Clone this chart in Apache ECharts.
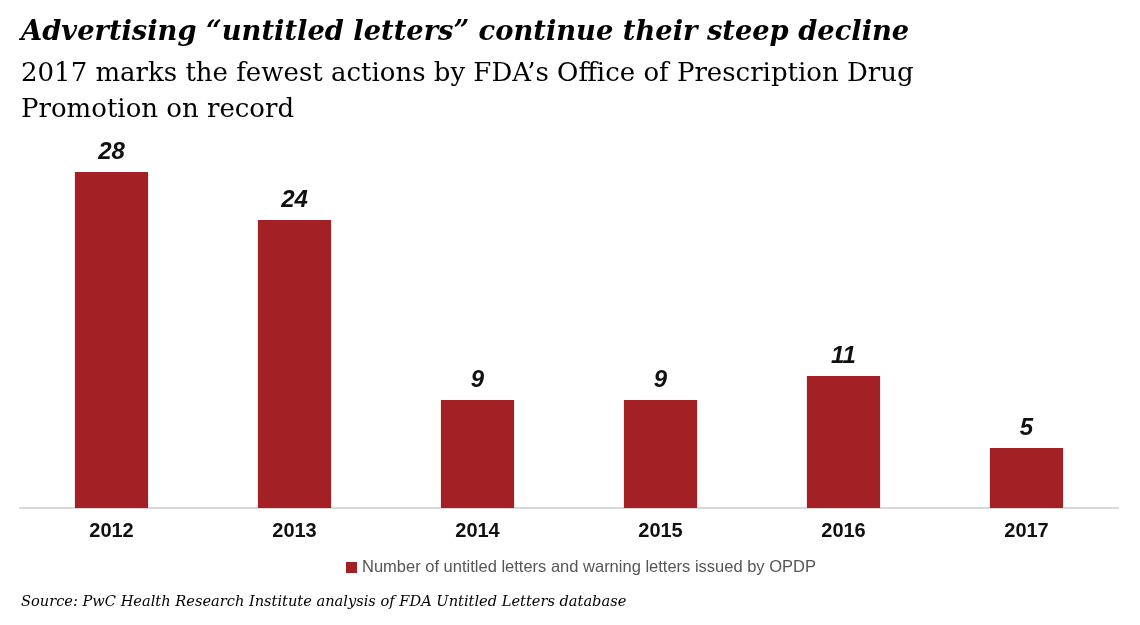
<!DOCTYPE html>
<html><head><meta charset="utf-8">
<script src="https://cdn.jsdelivr.net/npm/echarts@6/dist/echarts.min.js"></script>
<style>html,body{margin:0;padding:0;background:#fff}#c{width:1140px;height:625px}</style>
</head><body><div id="c"></div>
<script>
const categories = ['2012','2013','2014','2015','2016','2017'];
const values = [28, 24, 9, 9, 11, 5];
const seriesName = 'Number of untitled letters and warning letters issued by OPDP';
const titleText = 'Advertising \u201cuntitled letters\u201d continue their steep decline';
const subtitleLines = ['2017 marks the fewest actions by FDA\u2019s Office of Prescription Drug', 'Promotion on record'];
const sourceText = 'Source: PwC Health Research Institute analysis of FDA Untitled Letters database';

const chart = echarts.init(document.getElementById('c'));
chart.setOption({
  backgroundColor: '#fff',
  animation: false,
  title: [
    {text: titleText, left: 16, top: 14, textStyle: {fontFamily: 'DejaVu Serif', fontStyle: 'italic', fontWeight: 'bold', fontSize: 27.3, color: '#000'}},
    {text: subtitleLines.join('\n'), left: 16, top: 51, textStyle: {fontFamily: 'DejaVu Serif', fontWeight: 'normal', fontSize: 26, lineHeight: 36, color: '#000'}},
    {text: sourceText, left: 16, top: 590, textStyle: {fontFamily: 'DejaVu Serif', fontStyle: 'italic', fontWeight: 'normal', fontSize: 14.6, color: '#000'}}
  ],
  legend: {data: [seriesName], top: 554, left: 341, icon: 'rect', itemWidth: 11, itemHeight: 11, itemGap: 6,
    textStyle: {fontFamily: 'Liberation Sans', fontSize: 16.5, color: '#555'}},
  grid: {left: 20, right: 22, top: 148, bottom: 117},
  xAxis: {type: 'category', data: categories,
    axisLine: {lineStyle: {color: '#d9d9d9', width: 2}}, axisTick: {show: false},
    axisLabel: {margin: 13, fontFamily: 'Liberation Sans', fontWeight: 'bold', fontSize: 20, color: '#111'}},
  yAxis: {type: 'value', min: 0, max: 30, show: false, splitLine: {show: false}},
  series: [{name: seriesName, type: 'bar', data: values, barWidth: '40%',
    itemStyle: {color: '#A32024'},
    label: {show: true, position: 'top', distance: 8, fontFamily: 'Liberation Sans', fontStyle: 'italic', fontWeight: 'bold', fontSize: 24, color: '#111'}}]
});
</script></body></html>
